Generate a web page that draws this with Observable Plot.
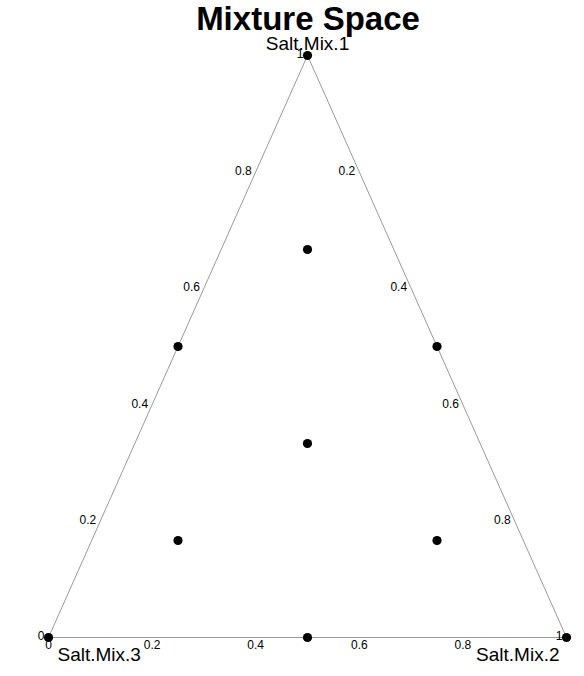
<!DOCTYPE html>
<html>
<head>
<meta charset="utf-8">
<script src="https://cdn.jsdelivr.net/npm/d3@7"></script>
<script src="https://cdn.jsdelivr.net/npm/@observablehq/plot@0.6"></script>
<style>
  html, body { margin: 0; padding: 0; background: #fff; }
  #title { width: 552px; padding-left: 32px; height: 30px; line-height: 25px; text-align: center;
           font: 700 33px "Liberation Sans", Arial, sans-serif; color: #000; }
</style>
</head>
<body>
<div id="title">Mixture Space</div>
<div id="chart"></div>
<script>
// Component names (vertices: top, bottom-right, bottom-left)
const components = ["Salt.Mix.1", "Salt.Mix.2", "Salt.Mix.3"];

// Design points (proportions of each component)
const mix1 = [1, 0, 0, 0.5, 0.5, 0, 0.3333, 0.6667, 0.1667, 0.1667];
const mix2 = [0, 1, 0, 0.5, 0, 0.5, 0.3333, 0.1667, 0.6667, 0.1667];
const mix3 = [0, 0, 1, 0, 0.5, 0.5, 0.3334, 0.1666, 0.1666, 0.6667];

// Tick labels along each edge
const leftTicks = [0, 0.2, 0.4, 0.6, 0.8, 1];     // Salt.Mix.1 along left edge
const rightTicks = [0.2, 0.4, 0.6, 0.8, 1];       // Salt.Mix.2 along right edge
const bottomTicks = [0, 0.2, 0.4, 0.6, 0.8];      // Salt.Mix.2 along bottom edge

// ternary -> cartesian
const tx = (m1, m2) => m2 + m1 / 2;
const ty = (m1) => m1;

const points = mix1.map((m, i) => ({m1: m, m2: mix2[i], m3: mix3[i]}));
const vertices = [
  {m1: 1, m2: 0, name: components[0]},
  {m1: 0, m2: 1, name: components[1]},
  {m1: 0, m2: 0, name: components[2]},
  {m1: 1, m2: 0, name: components[0]}
];
const fmt = v => (v === 0 || v === 1) ? String(v) : v.toFixed(1);
const font = "Liberation Sans, Arial, sans-serif";

const chart = Plot.plot({
  width: 584,
  height: 646,
  margin: 0,
  style: {fontFamily: font, background: "#fff"},
  x: {domain: [0, 1], range: [48, 566], axis: null},
  y: {domain: [0, 1], range: [607, 25], axis: null},
  marks: [
    Plot.line(vertices, {x: d => tx(d.m1, d.m2), y: d => ty(d.m1), stroke: "#808080", strokeWidth: 0.8}),
    // left edge ticks (Salt.Mix.1)
    Plot.text(leftTicks, {x: v => tx(v, 0), y: v => ty(v), text: fmt, textAnchor: "end", dx: -4, dy: -1, fontSize: 12, fill: "#000"}),
    // right edge ticks (Salt.Mix.2)
    Plot.text(rightTicks, {x: v => tx(1 - v, v), y: v => ty(1 - v), text: fmt, textAnchor: "end", dx: -4, dy: -1, fontSize: 12, fill: "#000"}),
    // bottom edge ticks
    Plot.text(bottomTicks, {x: v => tx(0, v), y: () => 0, text: fmt, textAnchor: "middle", dy: 8, fontSize: 12, fill: "#000"}),
    Plot.dot(points, {x: d => tx(d.m1, d.m2), y: d => ty(d.m1), r: 4.6, fill: "#000", stroke: "none"}),
    // vertex labels
    Plot.text([vertices[0]], {x: d => tx(d.m1, d.m2), y: d => ty(d.m1), text: "name", textAnchor: "middle", dy: -12, fontSize: 19, fill: "#000"}),
    Plot.text([vertices[1]], {x: d => tx(d.m1, d.m2), y: d => ty(d.m1), text: "name", textAnchor: "end", dx: -7, dy: 17, fontSize: 19, fill: "#000"}),
    Plot.text([vertices[2]], {x: d => tx(d.m1, d.m2), y: d => ty(d.m1), text: "name", textAnchor: "start", dx: 9, dy: 17, fontSize: 19, fill: "#000"})
  ]
});
document.getElementById("chart").appendChild(chart);
</script>
</body>
</html>
